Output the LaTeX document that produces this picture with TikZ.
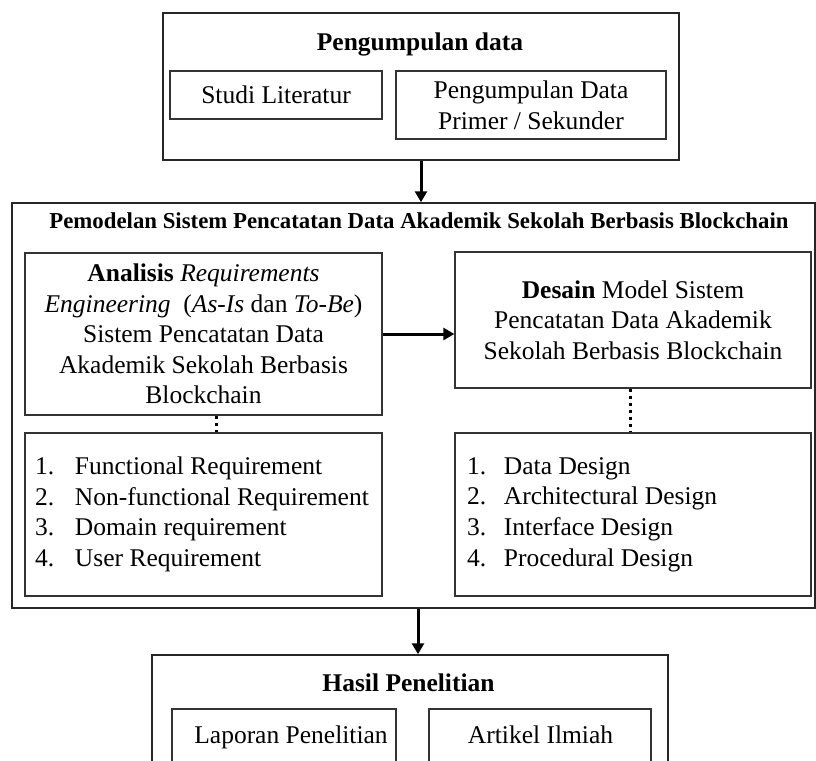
\documentclass[tikz,border=0pt]{standalone}
\usepackage{fontspec}
\setmainfont{Liberation Serif}
\usetikzlibrary{arrows.meta}
\newcommand\bodyfont{\fontsize{25.5}{30.6}\selectfont}
\newcommand\bigtitlefont{\fontsize{22.8}{27}\selectfont\bfseries}
% one list row: fixed-width number column, then the item, padded to a fixed width
\newcommand\lrow[4]{\makebox[#1][l]{\makebox[#2][l]{#3}#4}}
\begin{document}
\begin{tikzpicture}[x=1pt,y=-1pt,
  box/.style={draw=black!80, line width=1.3pt, rectangle, inner sep=0pt, align=center, font=\bodyfont},
  frame/.style={draw=black!85, line width=1.5pt, rectangle, inner sep=0pt},
  flow/.style={line width=3pt, -{Triangle[length=11pt,width=12pt]}},
  dots/.style={line width=3pt, dash pattern=on 3.5pt off 3.5pt},
  heading/.style={font=\bodyfont\bfseries, anchor=base, inner sep=0pt},
  plain/.style={font=\bodyfont, anchor=base, inner sep=0pt},
]
\useasboundingbox (0,0) rectangle (816,760);
\clip (0,0) rectangle (816,760);
\fill[white] (0,0) rectangle (816,760);

% --- data collection stage ---
\node[frame, minimum width=516pt, minimum height=147pt] (collect) at (421,86.5) {};
\node[heading] (collecttitle) at (420,51) {Pengumpulan data};
\node[box, minimum width=212pt, minimum height=48pt] (studi) at (276,95) {Studi Literatur};
\node[box, minimum width=270pt, minimum height=68pt] (primer) at (531,105)
  {Pengumpulan Data\\Primer / Sekunder};

% --- modelling stage ---
\node[frame, minimum width=803pt, minimum height=405pt] (model) at (413.5,405.5) {};
\node[font=\bigtitlefont, anchor=base, inner sep=0pt] (modeltitle) at (419,228)
  {Pemodelan Sistem Pencatatan Data Akademik Sekolah Berbasis Blockchain};
\node[box, minimum width=357pt, minimum height=162pt] (analisis) at (203.5,334)
  {\textbf{Analisis} \textit{Requirements}\\
   \textit{Engineering}\ \ (\textit{As-Is} dan \textit{To-Be})\\
   Sistem Pencatatan Data\\
   Akademik Sekolah Berbasis\\
   Blockchain};
\node[box, minimum width=356pt, minimum height=136pt] (desain) at (633,320)
  {\textbf{Desain} Model Sistem\\
   Pencatatan Data Akademik\\
   Sekolah Berbasis Blockchain};
\node[box, minimum width=357pt, minimum height=163pt] (reqlist) at (203.5,514.5)
  {\lrow{337pt}{40pt}{1.}{Functional Requirement}\\
   \lrow{337pt}{40pt}{2.}{Non-functional Requirement}\\
   \lrow{337pt}{40pt}{3.}{Domain requirement}\\
   \lrow{337pt}{40pt}{4.}{User Requirement}};
\node[box, minimum width=356pt, minimum height=163pt] (desainlist) at (633,514.5)
  {\lrow{332pt}{37pt}{1.}{Data Design}\\
   \lrow{332pt}{37pt}{2.}{Architectural Design}\\
   \lrow{332pt}{37pt}{3.}{Interface Design}\\
   \lrow{332pt}{37pt}{4.}{Procedural Design}};

% --- results stage ---
\node[frame, minimum width=516pt, minimum height=145pt] (hasil) at (410,727.5) {};
\node[heading] (hasiltitle) at (408.5,691) {Hasil Penelitian};
\node[box, minimum width=224pt, minimum height=81pt] (laporan) at (284,749.5) {};
\node[plain] (laporantext) at (291,743) {Laporan Penelitian};
\node[box, minimum width=222pt, minimum height=81pt] (artikel) at (540,749.5) {};
\node[plain] (artikeltext) at (540.5,743) {Artikel Ilmiah};

% --- connectors ---
\draw[flow] (collect.south) -- (collect.south |- model.north);
\draw[flow] (analisis.east) -- (analisis.east -| desain.west);
\draw[flow] ([xshift=4.5pt]model.south) -- ([xshift=4.5pt]model.south |- hasil.north);
\draw[dots] ([xshift=12.5pt]analisis.south) -- ([xshift=12.5pt]analisis.south |- reqlist.north);
\draw[dots] ([xshift=-3pt]desain.south) -- ([xshift=-3pt]desain.south |- desainlist.north);
\end{tikzpicture}
\end{document}
